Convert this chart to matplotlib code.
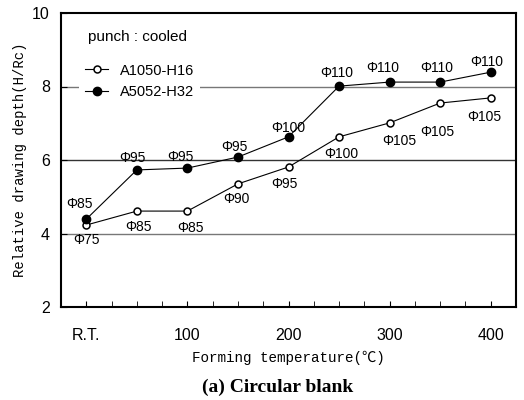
import matplotlib
matplotlib.use("Agg")
import matplotlib.pyplot as plt
from matplotlib.ticker import MultipleLocator

# Forming temperature (R.T. plotted at 0)
temps = [0, 50, 100, 150, 200, 250, 300, 350, 400]
xtick_vals = [0, 100, 200, 300, 400]
xtick_labels = ["R.T.", "100", "200", "300", "400"]

# Relative drawing depth H/Rc
a1050 = [4.23, 4.61, 4.61, 5.35, 5.81, 6.63, 7.01, 7.55, 7.69]
a5052 = [4.39, 5.73, 5.78, 6.08, 6.63, 8.01, 8.12, 8.12, 8.39]

# limiting blank diameters written next to each point
d_a1050 = [75, 85, 85, 90, 95, 100, 105, 105, 105]
d_a5052 = [85, 95, 95, 95, 100, 110, 110, 110, 110]

# label offsets in pixels (dx right, dy down)
off_a1050 = [(0, 15), (2, 16), (3, 17), (-2, 15), (-4, 17), (2, 17), (10, 18), (-3, 29), (-6, 19)]
off_a5052 = [(-7, -15), (-4, -12), (-7, -11), (-4, -10), (0, -9), (-2, -13), (-7, -14), (-3, -14), (-4, -10)]

plt.rcParams['font.family'] = ['Liberation Sans', 'DejaVu Sans']
mono = ['Liberation Mono', 'DejaVu Sans Mono', 'Noto Sans CJK KR']

fig = plt.figure(figsize=(5.24, 4.0), dpi=100)
ax = fig.add_axes([61/524, 1-307/400, 455/524, 294/400])

ax.set_xlim(-25, 425)
ax.set_ylim(2, 10)

# horizontal reference lines
ax.axhline(4, color='#777777', lw=1.0, zorder=1)
ax.axhline(6, color='#333333', lw=1.0, zorder=1)
ax.axhline(8, color='#777777', lw=1.0, zorder=1)

ax.plot(temps, a1050, '-o', color='black', lw=0.8, ms=5, mfc='white', mec='black', mew=1.1,
        label='A1050-H16', zorder=3)
ax.plot(temps, a5052, '-o', color='black', lw=0.8, ms=6, mfc='black', mec='black',
        label='A5052-H32', zorder=3)

def px2pt(off):
    return (off[0] * 0.72, -off[1] * 0.72)

for x, y, d, off in zip(temps, a1050, d_a1050, off_a1050):
    ax.annotate("Φ%d" % d, (x, y), xytext=px2pt(off), textcoords='offset points',
                ha='center', va='center', fontsize=10)
for x, y, d, off in zip(temps, a5052, d_a5052, off_a5052):
    ax.annotate("Φ%d" % d, (x, y), xytext=px2pt(off), textcoords='offset points',
                ha='center', va='center', fontsize=10)

ax.set_xticks(xtick_vals)
ax.set_xticklabels(xtick_labels)
ax.xaxis.set_minor_locator(MultipleLocator(25))
ax.set_yticks([2, 4, 6, 8, 10])
ax.tick_params(axis='both', which='both', direction='in', labelsize=11.5)
ax.tick_params(axis='x', which='major', length=4, pad=15)
ax.tick_params(axis='x', which='minor', length=4)
ax.tick_params(axis='y', which='major', length=4, pad=8)
for s in ax.spines.values():
    s.set_linewidth(1.5)

ax.set_xlabel("Forming temperature(℃)", family=mono, fontsize=10.3, labelpad=6)
ax.set_ylabel("Relative drawing depth(H/Rc)", family=mono, fontsize=10, labelpad=4)

# legend heading and entries
ax.text(0.059, 0.917, "punch : cooled", transform=ax.transAxes, fontsize=11,
        ha='left', va='center')
leg = ax.legend(loc='upper left', bbox_to_anchor=(0.04, 0.848), borderaxespad=0,
                frameon=True, facecolor='white', edgecolor='none', framealpha=1,
                fontsize=10.5, handlelength=1.6, handletextpad=0.8,
                labelspacing=0.5, borderpad=0.4, fancybox=False)

fig.text(278/524, 1-387/400, "(a) Circular blank", ha='center', va='center',
         family=['Liberation Serif', 'DejaVu Serif'], fontweight='bold', fontsize=14)

fig.savefig("out.png", dpi=100)
